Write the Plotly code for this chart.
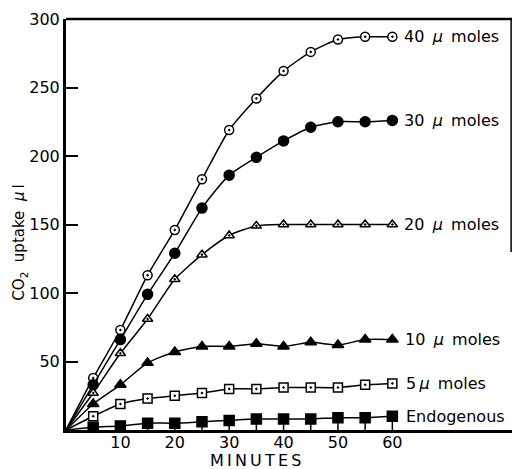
import plotly.graph_objects as go

minutes = [5, 10, 15, 20, 25, 30, 35, 40, 45, 50, 55, 60]
s40 = [38, 73, 113, 146, 183, 219, 242, 262, 276, 285, 287, 287]
s30 = [33, 66, 99, 129, 162, 186, 199, 211, 221, 225, 225, 226]
s20 = [27, 56, 81, 110, 128, 142, 149, 150, 150, 150, 150, 150]
s10 = [19, 33, 49, 57, 61, 61, 63, 61, 64, 62, 66, 66]
s5 = [10, 19, 23, 25, 27, 30, 30, 31, 31, 31, 33, 34]
endo = [2, 3, 5, 5, 6, 7, 8, 8, 8, 9, 9, 10]

labels = ["40 \u2009<i>\u00b5</i>\u2009 moles", "30 \u2009<i>\u00b5</i>\u2009 moles",
          "20 \u2009<i>\u00b5</i>\u2009 moles", "10 \u2009<i>\u00b5</i>\u2009 moles",
          "5\u2009<i>\u00b5</i>\u2009 moles", "Endogenous"]
series = [s40, s30, s20, s10, s5, endo]
symbols = ["circle-dot", "circle", "triangle-up-dot", "triangle-up", "square-dot", "square"]
fills = ["white", "black", "white", "black", "white", "black"]
sizes = [9, 10, 9, 10, 9, 10]
label_dx = [10, 10, 10, 11, 12, 12]

FONT = "DejaVu Sans"
fig = go.Figure()

for vals, sym, fc, sz, lab, dx in zip(series, symbols, fills, sizes, labels, label_dx):
    fig.add_trace(go.Scatter(
        x=[0] + minutes, y=[0] + vals, mode="lines",
        line=dict(color="black", width=1.5, shape="spline", smoothing=0.6),
        showlegend=False, hoverinfo="skip"))
    err = None
    if lab == "Endogenous":
        err = dict(type="data", symmetric=False, array=[0] * len(vals),
                   arrayminus=vals, color="black", thickness=1.5, width=0)
    fig.add_trace(go.Scatter(
        x=minutes, y=vals, mode="markers",
        marker=dict(symbol=sym, size=sz, color=fc,
                    line=dict(color="black", width=1.5)),
        error_y=err, showlegend=False, name=lab))
    fig.add_annotation(x=minutes[-1], y=vals[-1], xref="x", yref="y",
                       text=lab, showarrow=False, xanchor="left", yanchor="middle",
                       xshift=dx, yshift=0,
                       font=dict(family=FONT, size=16, color="black"))

fig.update_xaxes(range=[0, 82], showline=True, linewidth=3, linecolor="black",
                 tickvals=[10, 20, 30, 40, 50, 60], ticks="", showgrid=False,
                 zeroline=False, ticklabelstandoff=-4,
                 tickfont=dict(family=FONT, size=16, color="black"))
fig.update_yaxes(range=[0, 300], showline=True, linewidth=3, linecolor="black",
                 tickvals=[50, 100, 150, 200, 250, 300], ticks="inside", ticklen=12,
                 tickwidth=2, tickcolor="black", showgrid=False, zeroline=False,
                 tickfont=dict(family=FONT, size=16, color="black"))

fig.add_shape(type="line", xref="paper", yref="paper", x0=0, x1=1, y0=1, y1=1,
              line=dict(color="black", width=2.5))
fig.add_shape(type="line", xref="paper", yref="paper", x0=0.998, x1=0.998, y0=0.433, y1=1,
              line=dict(color="black", width=1.5))

fig.add_annotation(xref="paper", yref="paper", x=-0.103, y=0.456,
                   xanchor="center", yanchor="middle",
                   text="CO<sub>2</sub>\u00a0 uptake\u00a0 <i>\u00b5</i>\u2009l", textangle=-90,
                   showarrow=False, font=dict(family=FONT, size=15, color="black"))
fig.add_annotation(xref="paper", yref="paper", x=0.424, y=-0.073,
                   xanchor="center", yanchor="middle",
                   text="M\u2009I\u2009N\u2009U\u2009T\u2009E\u2009S", showarrow=False,
                   font=dict(family=FONT, size=16, color="black"))

fig.update_layout(width=512, height=469, margin=dict(l=66, r=0, t=19, b=39),
                  plot_bgcolor="white", paper_bgcolor="white")
fig.write_html("out.html")
